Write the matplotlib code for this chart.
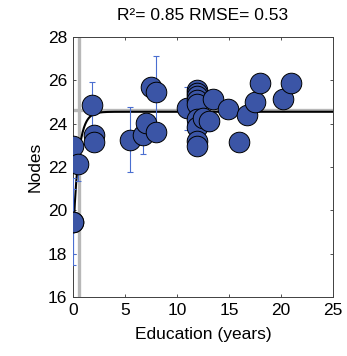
import matplotlib
matplotlib.use("Agg")
import matplotlib.pyplot as plt
import numpy as np

plt.rcParams["font.family"] = ["Liberation Sans", "DejaVu Sans"]

# Subjects: years of education vs. node count
education = [0, 0, 0, 0.48, 1.83, 2.05, 2.05, 5.48, 6.7, 7.02, 7.5, 7.98,
             7.98, 10.93, 11.95, 11.95, 11.95, 11.95, 11.95, 11.95, 11.95,
             11.95, 11.95, 12.5, 13.1, 13.5, 14.93, 15.95, 16.7, 17.5,
             17.98, 20.2, 20.96]
nodes = [22.98, 19.48, 19.48, 22.14, 24.86, 23.48, 23.17, 23.27, 23.5,
         24.03, 25.7, 25.44, 23.63, 24.71, 25.55, 25.42, 25.26, 25.1, 24.9,
         24.2, 23.85, 23.22, 22.98, 24.26, 24.12, 25.12, 24.69, 23.16,
         24.38, 25.0, 25.89, 25.13, 25.89]

# Points that carry a standard-error bar
err_x = [0, 0, 0.48, 1.83, 5.48, 6.7, 7.98, 10.93, 13.1]
err_y = [19.48, 19.48, 22.14, 24.86, 23.27, 23.5, 25.44, 24.71, 24.12]
err_size = [1.5, 2.0, 0.8, 1.05, 1.51, 0.9, 1.7, 1.0, 0.47]

# Exponential saturation fit: y = plateau - amp * exp(-x / tau)
fit_plateau = 24.55
fit_amp = 6.0
fit_tau = 0.5
fit_range = (0.05, 25.0)
knee_x = 0.62          # education level where the fit levels off
knee_y = 24.62
fit_r2 = 0.85
fit_rmse = 0.53

blue = "#3B55A6"
err_blue = "#4A6ED0"

fig = plt.figure(figsize=(3.47, 3.56), dpi=100)
ax = fig.add_axes([0.2104, 0.1657, 0.7493, 0.7303])

ax.axvline(knee_x, color="0.72", lw=2.4, zorder=1)
ax.axhline(knee_y, color="0.72", lw=2.4, zorder=1)

xs = np.linspace(*fit_range, 400)
ax.plot(xs, fit_plateau - fit_amp * np.exp(-xs / fit_tau),
        color="k", lw=1.5, zorder=2)

ax.errorbar(err_x, err_y, yerr=err_size, fmt="none", ecolor=err_blue,
            elinewidth=0.8, capsize=2.0, capthick=0.8, zorder=3)
ax.scatter(education, nodes, s=220, color=blue, edgecolors="k",
           linewidths=0.7, zorder=4)

ax.set_xlim(0, 25)
ax.set_ylim(16, 28)
ax.set_xticks(np.arange(0, 26, 5))
ax.set_yticks(np.arange(16, 29, 2))
ax.tick_params(direction="in", top=True, right=True, labelsize=12.5,
               length=2.5, width=0.6, color="0.2", pad=4)
for spine in ax.spines.values():
    spine.set_linewidth(0.7)
    spine.set_color("0.25")

ax.set_xlabel("Education (years)", fontsize=12.5, labelpad=7)
ax.set_ylabel("Nodes", fontsize=12.5, labelpad=4)
ax.set_title(f"R²= {fit_r2:.2f} RMSE= {fit_rmse:.2f}", fontsize=12.5, pad=12)

fig.savefig("out.png", dpi=100)
